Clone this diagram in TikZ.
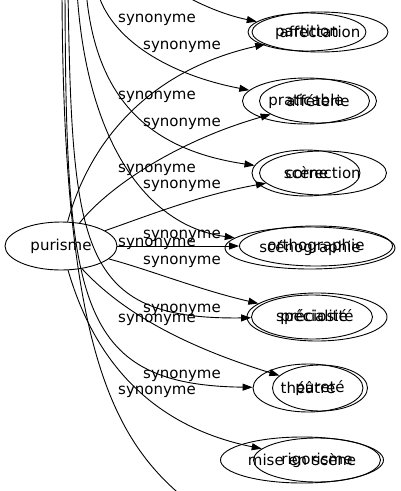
\documentclass[tikz,border=0pt]{standalone}
\usepackage{fontspec}
\setmainfont{DejaVu Sans}
\usetikzlibrary{arrows.meta, shapes.geometric}

\begin{document}
\begin{tikzpicture}[
    x=1pt, y=-1pt,
    font=\fontsize{15}{18}\selectfont,
    word/.style={
      ellipse,
      draw=black,
      line width=0.9pt,
      inner sep=0pt,
      minimum height=44pt,
    },
    rel/.style={inner sep=0pt},
    link/.style={
      draw=black,
      line width=0.9pt,
      -{Triangle[length=10pt, width=7pt]},
    },
  ]
  \useasboundingbox (0,0) rectangle (400,491);
  \clip (0,0) rectangle (400,491);

  \node[word, minimum width=112pt, minimum height=48pt] (purisme) at (61,246) {purisme};

  % two layouts drawn over one another
  \node[word, minimum width=136pt, minimum height=40pt] (affect) at (320,32) {affectation};
  \node[word, minimum width=118pt, minimum height=38pt] (partit) at (307,32) {partition};
  \node[word, minimum width=117pt] (affet) at (318,101) {afféterie};
  \node[word, minimum width=127pt, minimum height=46pt] (pratic) at (306,101) {praticable};
  \node[word, minimum width=127pt] (correc) at (323,173) {correction};
  \node[word, minimum width=108pt, minimum height=46pt] (scene) at (306,173) {scène};
  \node[word, minimum width=153pt, minimum height=40pt] (ortho) at (316,246) {orthographie};
  \node[word, minimum width=170pt, minimum height=42pt] (sceno) at (310,248) {scénographie};
  \node[word, minimum width=140pt, minimum height=48pt] (precio) at (317,317) {préciosité};
  \node[word, minimum width=121pt] (specia) at (312,317) {spécialité};
  \node[word, minimum width=95pt, minimum height=46pt] (purete) at (320,388) {pureté};
  \node[word, minimum width=110pt, minimum height=48pt] (theatre) at (308,388) {théâtre};
  \node[word, minimum width=127pt] (rigor) at (317,460) {rigorisme};
  \node[word, minimum width=163pt, minimum height=46pt] (mise) at (302,460) {mise en scène};

  \node[rel] (la1) at (182,47) {synonyme};
  \node[rel] (la2) at (182,124) {synonyme};
  \node[rel] (la3) at (182,186) {synonyme};
  \node[rel] (la4) at (182,236) {synonyme};
  \node[rel] (la5) at (182,262) {synonyme};
  \node[rel] (la6) at (182,310) {synonyme};
  \node[rel] (la7) at (182,376) {synonyme};
  \node[rel] (lb1) at (157,20) {synonyme};
  \node[rel] (lb2) at (157,97) {synonyme};
  \node[rel] (lb3) at (157,170) {synonyme};
  \node[rel] (lb4) at (157,244) {synonyme};
  \node[rel] (lb5) at (157,320) {synonyme};
  \node[rel] (lb6) at (157,392) {synonyme};

  % edges of the upper layout enter from above the crop
  \coordinate (t1) at (175,-10);
  \coordinate (t2) at (97,-10);
  \coordinate (t3) at (86,-10);
  \coordinate (t4) at (77,-10);
  \coordinate (t5) at (68,-10);
  \coordinate (t6) at (65,-10);
  \coordinate (t7) at (62,-10);
  \coordinate (b7) at (230,530);

  \draw[link] (purisme) .. controls (90,140) and (150,70) .. (affect);
  \draw[link] (purisme) .. controls (110,185) and (180,140) .. (affet);
  \draw[link] (purisme) .. controls (150,215) and (200,195) .. (correc);
  \draw[link] (purisme) -- (ortho);
  \draw[link] (purisme) .. controls (150,270) and (200,290) .. (precio);
  \draw[link] (purisme) .. controls (120,310) and (180,345) .. (purete);
  \draw[link] (purisme) .. controls (100,380) and (170,430) .. (rigor);

  \draw[link] (t1) .. controls (200,5) and (225,15) .. (partit);
  \draw[link] (t2) .. controls (110,40) and (170,75) .. (pratic);
  \draw[link] (t3) .. controls (95,100) and (150,150) .. (scene);
  \draw[link] (t4) .. controls (85,130) and (140,225) .. (sceno);
  \draw[link] (t5) .. controls (72,250) and (80,320) .. (specia);
  \draw[link] (t6) .. controls (66,300) and (75,385) .. (theatre);
  \draw[link] (t7) .. controls (63,380) and (120,460) .. (b7);
\end{tikzpicture}
\end{document}
